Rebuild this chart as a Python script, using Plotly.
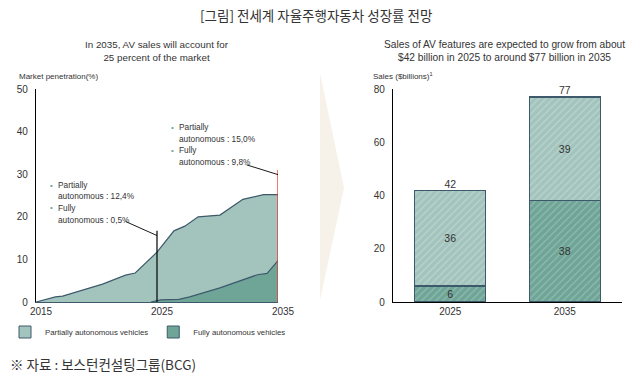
import plotly.graph_objects as go

# ---------------- data ----------------
# Left chart: market penetration (%), stacked top = partially + fully
total_years = [2015.0, 2016.6, 2017.2, 2020.5, 2022.4, 2023.2, 2025.0, 2026.4,
               2027.3, 2028.4, 2030.2, 2031.4, 2032.1, 2033.8, 2035.0]
total_vals = [0.0, 1.2, 1.4, 4.2, 6.3, 6.8, 11.7, 16.7,
              17.8, 20.0, 20.4, 22.8, 24.1, 25.2, 25.2]
fully_years = [2024.5, 2025.3, 2026.8, 2027.7, 2030.2, 2032.5, 2033.3, 2034.1, 2035.0]
fully_vals = [0.0, 0.5, 0.6, 1.2, 3.3, 5.5, 6.4, 6.7, 9.7]
x_ticks = [2015, 2025, 2035]
y_ticks_left = [0, 10, 20, 30, 40, 50]

# Right chart: sales ($ billions)
bar_cats = ["2025", "2035"]
fully_sales = [6, 38]
partial_sales = [36, 39]
y_ticks_right = [0, 20, 40, 60, 80]

# ---------------- styling ----------------
W, H = 633, 374
LIGHT = "#a3c4bd"
DARK = "#6fa597"
EDGE = "#3d5a6c"
TXT = "#333333"
SANS = "Liberation Sans, Arial, sans-serif"
KFONT = "Noto Sans CJK KR, Noto Sans, sans-serif"


def px(x):
    return x / W


def py(y):
    return 1 - y / H


fig = go.Figure()

# Area traces (left)
fig.add_trace(go.Scatter(
    x=total_years, y=total_vals, mode="lines", fill="tozeroy",
    fillcolor=LIGHT, line=dict(color=EDGE, width=1.2),
    showlegend=False, hoverinfo="skip", xaxis="x", yaxis="y"))
fig.add_trace(go.Scatter(
    x=fully_years, y=fully_vals, mode="lines", fill="tozeroy",
    fillcolor=DARK, line=dict(color=EDGE, width=1.2),
    showlegend=False, hoverinfo="skip", xaxis="x", yaxis="y"))

# Legend-only proxies
fig.add_trace(go.Bar(x=[None], y=[None], name="Partially autonomous vehicles",
                     marker=dict(color=LIGHT, line=dict(color=EDGE, width=1)),
                     xaxis="x2", yaxis="y2", showlegend=True))
fig.add_trace(go.Bar(x=[None], y=[None], name="Fully autonomous vehicles",
                     marker=dict(color=DARK, line=dict(color=EDGE, width=1)),
                     xaxis="x2", yaxis="y2", showlegend=True))

# Bars (right)
fig.add_trace(go.Bar(
    x=bar_cats, y=fully_sales, text=[str(v) for v in fully_sales],
    textposition="inside", insidetextanchor="middle", textangle=0,
    constraintext="none",
    textfont=dict(family=SANS, size=10.5, color=TXT),
    marker=dict(color=DARK, line=dict(color=EDGE, width=1.1),
                pattern=dict(shape="/", fgcolor="rgba(255,255,255,0.5)",
                             bgcolor=DARK, size=5, solidity=0.22, fillmode="overlay")),
    showlegend=False, hoverinfo="skip", xaxis="x2", yaxis="y2"))
fig.add_trace(go.Bar(
    x=bar_cats, y=partial_sales, text=[str(v) for v in partial_sales],
    textposition="inside", insidetextanchor="middle", textangle=0,
    constraintext="none",
    textfont=dict(family=SANS, size=10.5, color=TXT),
    marker=dict(color=LIGHT, line=dict(color=EDGE, width=1.1),
                pattern=dict(shape="/", fgcolor="rgba(255,255,255,0.55)",
                             bgcolor=LIGHT, size=5, solidity=0.22, fillmode="overlay")),
    showlegend=False, hoverinfo="skip", xaxis="x2", yaxis="y2"))
totals = [a + b for a, b in zip(fully_sales, partial_sales)]
fig.add_trace(go.Scatter(
    x=bar_cats, y=totals, mode="text", text=[str(t) for t in totals],
    textposition="top center", textfont=dict(family=SANS, size=10.5, color=TXT),
    showlegend=False, hoverinfo="skip", xaxis="x2", yaxis="y2", cliponaxis=False))

ydom = [py(302), py(89)]
TICKF = dict(size=10, family=SANS, color=TXT)

fig.update_layout(
    width=W, height=H, margin=dict(l=0, r=0, t=0, b=0, autoexpand=False),
    paper_bgcolor="white", plot_bgcolor="rgba(0,0,0,0)",
    barmode="stack", bargap=0.38,
    font=dict(family=SANS, color=TXT),
    xaxis=dict(domain=[px(36), px(278)], range=[2015, 2035], type="linear",
               tickvals=x_ticks, ticktext=[str(v) for v in x_ticks],
               showgrid=False, zeroline=False, showline=True, linecolor=EDGE,
               linewidth=1, ticks="", tickfont=TICKF, ticklabelshift=5,
               automargin=False, fixedrange=True),
    yaxis=dict(domain=ydom, range=[0, 50], tickvals=y_ticks_left,
               showgrid=False, zeroline=False, showline=True, linecolor="black",
               linewidth=1.2, ticks="", tickfont=TICKF, ticklabelstandoff=5,
               automargin=False),
    xaxis2=dict(domain=[px(393), px(622)], anchor="y2", type="category",
                range=[-0.5, 1.5], showgrid=False, zeroline=False, showline=True,
                linecolor="black", linewidth=1.2, ticks="", tickfont=TICKF,
                automargin=False),
    yaxis2=dict(domain=ydom, anchor="x2", range=[0, 80], tickvals=y_ticks_right,
                showgrid=False, zeroline=False, showline=True, linecolor="black",
                linewidth=1.2, ticks="", tickfont=TICKF, ticklabelstandoff=5,
                automargin=False),
    legend=dict(orientation="h", x=px(5), y=py(332), yanchor="middle", xanchor="left",
                font=dict(size=7.8, family=SANS, color=TXT),
                traceorder="normal",
                itemclick=False, bgcolor="rgba(0,0,0,0)", tracegroupgap=0),
)

shapes = []
# chevron arrow between panels
shapes.append(dict(type="path", xref="paper", yref="paper",
                   path=f"M {px(320)},{py(73)} L {px(344)},{py(188)} L {px(320)},{py(300)} Z",
                   fillcolor="#f6f2e9", line=dict(width=0), layer="below"))
# vertical marker lines and leaders
shapes.append(dict(type="line", xref="x", yref="y", x0=2025, x1=2025, y0=0, y1=16.7,
                   line=dict(color="black", width=1.2)))
shapes.append(dict(type="line", xref="x", yref="y", x0=2035, x1=2035, y0=0, y1=31,
                   line=dict(color="#e8322a", width=1.3)))
shapes.append(dict(type="line", xref="x", yref="y", x0=2022.4, x1=2025, y0=18.9, y1=15.6,
                   line=dict(color="black", width=0.9)))
shapes.append(dict(type="line", xref="x", yref="y", x0=2032.4, x1=2035, y0=32.2, y1=29.9,
                   line=dict(color="black", width=0.9)))
fig.update_layout(shapes=shapes)

ann = []
ann.append(dict(text="[그림] 전세계 자율주행자동차 성장률 전망", x=px(316), y=py(15),
                xref="paper", yref="paper", showarrow=False, xanchor="center", yanchor="middle",
                font=dict(family=KFONT, size=13.5, color=TXT)))
ann.append(dict(text="In 2035, AV sales will account for<br>25 percent of the market",
                x=px(157), y=py(51), xref="paper", yref="paper", showarrow=False,
                xanchor="center", yanchor="middle", font=dict(size=9.8, family=SANS, color=TXT)))
ann.append(dict(text="Sales of AV features are expected to grow from about<br>$42 billion in 2025 to around $77 billion in 2035",
                x=px(505), y=py(51), xref="paper", yref="paper", showarrow=False,
                xanchor="center", yanchor="middle", font=dict(size=10.2, family=SANS, color=TXT)))
ann.append(dict(text="Market penetration(%)", x=px(17), y=py(76), xref="paper", yref="paper",
                showarrow=False, xanchor="left", yanchor="middle",
                font=dict(size=8, family=SANS, color=TXT)))
ann.append(dict(text="Sales ($billions)<sup>1</sup>", x=px(371), y=py(76), xref="paper", yref="paper",
                showarrow=False, xanchor="left", yanchor="middle",
                font=dict(size=8, family=SANS, color=TXT)))
ann.append(dict(text="※ 자료 : 보스턴컨설팅그룹(BCG)", x=px(8), y=py(364), xref="paper", yref="paper",
                showarrow=False, xanchor="left", yanchor="middle",
                font=dict(family=KFONT, size=13.5, color=TXT)))

# callout texts
callouts = [
    (51, 56, [185, 196, 207.5, 219.5],
     ["Partially", "autonomous : 12,4%", "Fully", "autonomous : 0,5%"]),
    (172, 177, [127, 138.5, 150, 161.5],
     ["Partially", "autonomous : 15,0%", "Fully", "autonomous : 9,8%"]),
]
for bx, tx, ys, lines in callouts:
    for i, (yy, t) in enumerate(zip(ys, lines)):
        if i % 2 == 0:
            ann.append(dict(text="•", x=px(bx), y=py(yy), xref="paper", yref="paper",
                            showarrow=False, xanchor="center", yanchor="middle",
                            font=dict(size=8, color="#6fa597")))
        ann.append(dict(text=t, x=px(tx), y=py(yy), xref="paper", yref="paper",
                        showarrow=False, xanchor="left", yanchor="middle",
                        font=dict(size=8.3, family=SANS, color=TXT)))
fig.update_layout(annotations=ann)

fig.write_html("out.html", config={"displayModeBar": False},
               post_script="document.body.style.margin='0px';")
